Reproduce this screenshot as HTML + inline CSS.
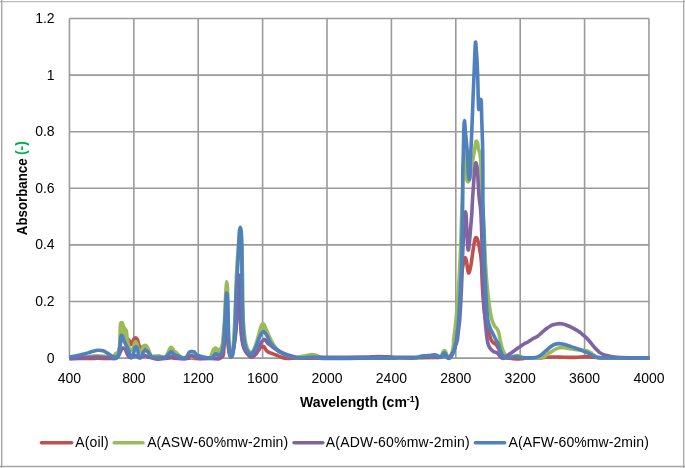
<!DOCTYPE html>
<html><head><meta charset="utf-8">
<style>
html,body{margin:0;padding:0;background:#fff;}
body{width:685px;height:468px;position:relative;overflow:hidden;font-family:"Liberation Sans",sans-serif;color:#000;}
svg{position:absolute;left:0;top:0;}
</style></head><body>
<svg width="685" height="468" viewBox="0 0 685 468">
<g fill="none">
<path d="M0 1.55H685" stroke="#bbbbbb" stroke-width="1.3"/>
<path d="M1.7 0V468" stroke="#a8a8a8" stroke-width="1.5"/>
<path d="M683.7 0V468" stroke="#aaaaaa" stroke-width="1.4"/>
<path d="M0 466.5H685" stroke="#a6a6a6" stroke-width="1.5"/>
</g>
<g stroke="#9a9a9a" stroke-width="1.6" fill="none">
<path d="M69.45 18.48H648.96M69.45 75.08H648.96M69.45 131.68H648.96M69.45 188.28H648.96M69.45 244.88H648.96M69.45 301.48H648.96M69.45 358.08H648.96"/>
<path d="M69.45 18.48V358.08M133.84 18.48V358.08M198.23 18.48V358.08M262.62 18.48V358.08M327.01 18.48V358.08M391.40 18.48V358.08M455.79 18.48V358.08M520.18 18.48V358.08M584.57 18.48V358.08M648.96 18.48V358.08"/>
</g>
<g id="curves" fill="none" stroke-width="3.6" stroke-linejoin="round" stroke-linecap="butt">
<path stroke="#C0504D" d="M69.30 358.40C72.75 358.40 85.22 358.42 90.00 358.40C94.78 358.38 94.67 358.28 98.00 358.30C101.33 358.32 107.17 358.48 110.00 358.50C112.83 358.52 113.80 358.65 115.00 358.40C116.20 358.15 116.60 357.90 117.20 357.00C117.80 356.10 118.13 354.83 118.60 353.00C119.07 351.17 119.55 348.17 120.00 346.00C120.45 343.83 120.87 341.45 121.30 340.00C121.73 338.55 122.12 337.82 122.60 337.30C123.08 336.78 123.67 336.82 124.20 336.90C124.73 336.98 125.27 337.45 125.80 337.80C126.33 338.15 126.87 338.58 127.40 339.00C127.93 339.42 128.50 339.67 129.00 340.30C129.50 340.93 130.00 342.10 130.40 342.80C130.80 343.50 131.05 344.55 131.40 344.50C131.75 344.45 132.12 343.33 132.50 342.50C132.88 341.67 133.28 340.25 133.70 339.50C134.12 338.75 134.57 338.22 135.00 338.00C135.43 337.78 135.88 337.87 136.30 338.20C136.72 338.53 137.12 339.03 137.50 340.00C137.88 340.97 138.25 342.80 138.60 344.00C138.95 345.20 139.30 346.47 139.60 347.20C139.90 347.93 140.07 348.30 140.40 348.40C140.73 348.50 141.12 348.13 141.60 347.80C142.08 347.47 142.73 346.48 143.30 346.40C143.87 346.32 144.38 346.70 145.00 347.30C145.62 347.90 146.25 348.80 147.00 350.00C147.75 351.20 148.67 353.25 149.50 354.50C150.33 355.75 151.08 356.78 152.00 357.50C152.92 358.22 154.00 358.53 155.00 358.80C156.00 359.07 157.00 359.08 158.00 359.10C159.00 359.12 159.83 359.00 161.00 358.90C162.17 358.80 163.28 358.68 165.00 358.50C166.72 358.32 169.80 357.85 171.30 357.80C172.80 357.75 171.72 358.07 174.00 358.20C176.28 358.33 182.08 358.63 185.00 358.60C187.92 358.57 189.67 358.03 191.50 358.00C193.33 357.97 192.92 358.35 196.00 358.40C199.08 358.45 207.00 358.30 210.00 358.30C213.00 358.30 212.92 358.35 214.00 358.40C215.08 358.45 215.82 358.52 216.50 358.60C217.18 358.68 217.52 358.95 218.10 358.90C218.68 358.85 219.35 358.62 220.00 358.30C220.65 357.98 221.43 357.63 222.00 357.00C222.57 356.37 223.02 356.83 223.40 354.50C223.78 352.17 223.97 346.58 224.30 343.00C224.63 339.42 225.05 335.50 225.40 333.00C225.75 330.50 226.08 328.17 226.40 328.00C226.72 327.83 227.03 329.67 227.30 332.00C227.57 334.33 227.73 338.83 228.00 342.00C228.27 345.17 228.53 348.67 228.90 351.00C229.27 353.33 229.75 355.23 230.20 356.00C230.65 356.77 231.13 356.60 231.60 355.60C232.07 354.60 232.52 352.60 233.00 350.00C233.48 347.40 234.00 344.00 234.50 340.00C235.00 336.00 235.55 330.67 236.00 326.00C236.45 321.33 236.82 317.00 237.20 312.00C237.58 307.00 237.98 300.83 238.30 296.00C238.62 291.17 238.87 285.83 239.10 283.00C239.33 280.17 239.52 279.00 239.70 279.00C239.88 279.00 240.08 280.17 240.20 283.00C240.32 285.83 240.35 291.50 240.40 296.00C240.45 300.50 240.43 305.67 240.50 310.00C240.57 314.33 240.63 318.17 240.80 322.00C240.97 325.83 241.22 329.83 241.50 333.00C241.78 336.17 242.08 338.67 242.50 341.00C242.92 343.33 243.42 345.33 244.00 347.00C244.58 348.67 245.33 349.75 246.00 351.00C246.67 352.25 247.25 353.53 248.00 354.50C248.75 355.47 249.67 356.43 250.50 356.80C251.33 357.17 252.17 357.08 253.00 356.70C253.83 356.32 254.67 355.40 255.50 354.50C256.33 353.60 257.17 352.47 258.00 351.30C258.83 350.13 259.78 348.25 260.50 347.50C261.22 346.75 261.83 346.97 262.30 346.80C262.77 346.63 262.93 346.38 263.30 346.50C263.67 346.62 264.12 347.03 264.50 347.50C264.88 347.97 265.23 348.75 265.60 349.30C265.97 349.85 266.22 350.32 266.70 350.80C267.18 351.28 267.72 351.78 268.50 352.20C269.28 352.62 270.13 352.83 271.40 353.30C272.67 353.77 274.53 354.38 276.10 355.00C277.67 355.62 279.23 356.45 280.80 357.00C282.37 357.55 283.97 358.07 285.50 358.30C287.03 358.53 287.58 358.42 290.00 358.40C292.42 358.38 281.67 358.30 300.00 358.20C318.33 358.10 378.33 357.92 400.00 357.80C421.67 357.68 423.33 357.58 430.00 357.50C436.67 357.42 437.92 357.45 440.00 357.30C442.08 357.15 441.77 356.92 442.50 356.60C443.23 356.28 443.78 355.40 444.40 355.40C445.02 355.40 445.60 356.20 446.20 356.60C446.80 357.00 447.42 357.73 448.00 357.80C448.58 357.87 448.98 357.80 449.70 357.00C450.42 356.20 451.50 354.50 452.30 353.00C453.10 351.50 453.83 350.17 454.50 348.00C455.17 345.83 455.78 343.00 456.30 340.00C456.82 337.00 457.20 333.33 457.60 330.00C458.00 326.67 458.32 325.00 458.70 320.00C459.08 315.00 459.52 306.67 459.90 300.00C460.28 293.33 460.57 285.33 461.00 280.00C461.43 274.67 462.03 271.17 462.50 268.00C462.97 264.83 463.43 262.67 463.80 261.00C464.17 259.33 464.40 258.45 464.70 258.00C465.00 257.55 465.28 257.63 465.60 258.30C465.92 258.97 466.27 260.22 466.60 262.00C466.93 263.78 467.28 267.20 467.60 269.00C467.92 270.80 468.18 272.38 468.50 272.80C468.82 273.22 469.12 272.63 469.50 271.50C469.88 270.37 470.38 268.25 470.80 266.00C471.22 263.75 471.62 260.67 472.00 258.00C472.38 255.33 472.73 252.50 473.10 250.00C473.47 247.50 473.85 244.92 474.20 243.00C474.55 241.08 474.88 239.42 475.20 238.50C475.52 237.58 475.78 237.50 476.10 237.50C476.42 237.50 476.75 237.75 477.10 238.50C477.45 239.25 477.85 240.58 478.20 242.00C478.55 243.42 478.90 245.42 479.20 247.00C479.50 248.58 479.75 250.17 480.00 251.50C480.25 252.83 480.50 253.58 480.70 255.00C480.90 256.42 481.03 257.83 481.20 260.00C481.37 262.17 481.52 263.83 481.70 268.00C481.88 272.17 482.03 279.67 482.30 285.00C482.57 290.33 482.92 295.17 483.30 300.00C483.68 304.83 484.15 310.33 484.60 314.00C485.05 317.67 485.52 319.83 486.00 322.00C486.48 324.17 487.00 325.17 487.50 327.00C488.00 328.83 488.50 331.17 489.00 333.00C489.50 334.83 490.03 336.67 490.50 338.00C490.97 339.33 491.30 340.20 491.80 341.00C492.30 341.80 492.88 342.30 493.50 342.80C494.12 343.30 494.92 343.47 495.50 344.00C496.08 344.53 496.50 345.25 497.00 346.00C497.50 346.75 497.92 347.42 498.50 348.50C499.08 349.58 499.83 351.25 500.50 352.50C501.17 353.75 501.75 355.12 502.50 356.00C503.25 356.88 503.75 357.43 505.00 357.80C506.25 358.17 508.50 358.03 510.00 358.20C511.50 358.37 512.75 358.67 514.00 358.80C515.25 358.93 516.33 359.00 517.50 359.00C518.67 359.00 519.75 358.92 521.00 358.80C522.25 358.68 522.67 358.38 525.00 358.30C527.33 358.22 532.50 358.37 535.00 358.30C537.50 358.23 538.17 358.07 540.00 357.90C541.83 357.73 543.90 357.45 546.00 357.30C548.10 357.15 550.27 357.03 552.60 357.00C554.93 356.97 556.27 357.03 560.00 357.10C563.73 357.17 570.55 357.48 575.00 357.40C579.45 357.32 582.80 356.57 586.70 356.60C590.60 356.63 594.52 357.37 598.40 357.60C602.28 357.83 601.47 357.90 610.00 358.00C618.53 358.10 643.00 358.17 649.60 358.20"/>
<path fill="#9BBB59" stroke="none" d="M301.00 356.50L305.00 355.60L312.00 354.40L316.00 355.00L319.00 356.50L312.00 357.00Z"/>
<path fill="#9BBB59" stroke="none" d="M212.30 353.00L213.10 350.20L214.30 348.30L215.50 347.80L217.00 348.80L218.20 350.60L219.50 349.30L221.00 347.80L222.20 346.50L222.40 353.00Z"/>
<path fill="#9BBB59" stroke="none" d="M261.20 332.00L261.90 326.50L263.00 323.90L264.30 324.80L265.60 328.00L266.20 332.00L263.50 334.00Z"/>
<path fill="#9BBB59" stroke="none" d="M119.50 345.00L119.60 332.00L120.10 325.00L121.20 323.20L122.30 323.60L123.00 325.80L124.20 328.60L125.40 330.00L126.10 331.50L126.50 335.00L126.80 339.00L123.00 341.00L120.00 345.00Z"/>
<path stroke="#9BBB59" d="M69.30 358.00C71.08 357.92 76.55 357.75 80.00 357.50C83.45 357.25 87.00 356.80 90.00 356.50C93.00 356.20 95.33 355.70 98.00 355.70C100.67 355.70 103.83 356.22 106.00 356.50C108.17 356.78 109.75 357.38 111.00 357.40C112.25 357.42 112.87 357.07 113.50 356.60C114.13 356.13 114.30 355.17 114.80 354.60C115.30 354.03 115.97 353.58 116.50 353.20C117.03 352.82 117.55 352.92 118.00 352.30C118.45 351.68 118.90 351.05 119.20 349.50C119.50 347.95 119.67 345.42 119.80 343.00C119.93 340.58 119.93 337.58 120.00 335.00C120.07 332.42 120.10 329.40 120.20 327.50C120.30 325.60 120.42 324.42 120.60 323.60C120.78 322.78 121.00 322.67 121.30 322.60C121.60 322.53 122.08 322.72 122.40 323.20C122.72 323.68 122.88 324.67 123.20 325.50C123.52 326.33 123.92 327.57 124.30 328.20C124.68 328.83 125.17 328.83 125.50 329.30C125.83 329.77 126.08 330.05 126.30 331.00C126.52 331.95 126.63 333.67 126.80 335.00C126.97 336.33 127.12 337.67 127.30 339.00C127.48 340.33 127.68 341.83 127.90 343.00C128.12 344.17 128.30 345.03 128.60 346.00C128.90 346.97 129.22 348.08 129.70 348.80C130.18 349.52 130.95 350.35 131.50 350.30C132.05 350.25 132.57 349.38 133.00 348.50C133.43 347.62 133.80 345.98 134.10 345.00C134.40 344.02 134.57 343.13 134.80 342.60C135.03 342.07 135.20 341.73 135.50 341.80C135.80 341.87 136.27 342.30 136.60 343.00C136.93 343.70 137.18 344.92 137.50 346.00C137.82 347.08 138.17 348.53 138.50 349.50C138.83 350.47 139.18 351.30 139.50 351.80C139.82 352.30 140.07 352.63 140.40 352.50C140.73 352.37 141.15 351.67 141.50 351.00C141.85 350.33 142.13 349.28 142.50 348.50C142.87 347.72 143.25 346.82 143.70 346.30C144.15 345.78 144.73 345.45 145.20 345.40C145.67 345.35 146.07 345.57 146.50 346.00C146.93 346.43 147.35 347.12 147.80 348.00C148.25 348.88 148.78 350.25 149.20 351.30C149.62 352.35 149.92 353.45 150.30 354.30C150.68 355.15 151.05 356.08 151.50 356.40C151.95 356.72 152.28 356.25 153.00 356.20C153.72 356.15 154.80 356.15 155.80 356.10C156.80 356.05 158.05 355.83 159.00 355.90C159.95 355.97 160.75 356.28 161.50 356.50C162.25 356.72 162.75 357.23 163.50 357.20C164.25 357.17 165.20 357.17 166.00 356.30C166.80 355.43 167.67 353.28 168.30 352.00C168.93 350.72 169.32 349.38 169.80 348.60C170.28 347.82 170.75 347.33 171.20 347.30C171.65 347.27 172.07 347.82 172.50 348.40C172.93 348.98 173.33 350.20 173.80 350.80C174.27 351.40 174.68 351.50 175.30 352.00C175.92 352.50 176.80 353.13 177.50 353.80C178.20 354.47 178.80 355.40 179.50 356.00C180.20 356.60 180.78 357.12 181.70 357.40C182.62 357.68 183.62 357.70 185.00 357.70C186.38 357.70 188.33 357.42 190.00 357.40C191.67 357.38 192.50 357.53 195.00 357.60C197.50 357.67 202.58 357.77 205.00 357.80C207.42 357.83 208.50 358.07 209.50 357.80C210.50 357.53 210.55 357.00 211.00 356.20C211.45 355.40 211.83 354.03 212.20 353.00C212.57 351.97 212.85 350.75 213.20 350.00C213.55 349.25 213.92 348.83 214.30 348.50C214.68 348.17 215.07 347.92 215.50 348.00C215.93 348.08 216.45 348.53 216.90 349.00C217.35 349.47 217.75 350.72 218.20 350.80C218.65 350.88 219.13 349.97 219.60 349.50C220.07 349.03 220.58 348.67 221.00 348.00C221.42 347.33 221.78 346.83 222.10 345.50C222.42 344.17 222.50 344.25 222.90 340.00C223.30 335.75 224.08 326.67 224.50 320.00C224.92 313.33 225.13 305.33 225.40 300.00C225.67 294.67 225.87 291.02 226.10 288.00C226.33 284.98 226.57 281.90 226.80 281.90C227.03 281.90 227.32 284.15 227.50 288.00C227.68 291.85 227.78 299.67 227.90 305.00C228.02 310.33 228.10 315.00 228.20 320.00C228.30 325.00 228.32 330.17 228.50 335.00C228.68 339.83 228.98 345.50 229.30 349.00C229.62 352.50 230.03 354.75 230.40 356.00C230.77 357.25 231.17 357.00 231.50 356.50C231.83 356.00 232.10 354.92 232.40 353.00C232.70 351.08 233.03 348.17 233.30 345.00C233.57 341.83 233.75 338.17 234.00 334.00C234.25 329.83 234.53 325.67 234.80 320.00C235.07 314.33 235.35 306.67 235.60 300.00C235.85 293.33 236.03 286.33 236.30 280.00C236.57 273.67 236.87 267.33 237.20 262.00C237.53 256.67 237.92 251.67 238.30 248.00C238.68 244.33 239.12 241.33 239.50 240.00C239.88 238.67 240.25 238.67 240.60 240.00C240.95 241.33 241.33 244.33 241.60 248.00C241.87 251.67 242.03 256.67 242.20 262.00C242.37 267.33 242.50 273.67 242.60 280.00C242.70 286.33 242.68 293.33 242.80 300.00C242.92 306.67 243.07 314.67 243.30 320.00C243.53 325.33 243.88 328.67 244.20 332.00C244.52 335.33 244.82 337.67 245.20 340.00C245.58 342.33 245.95 344.25 246.50 346.00C247.05 347.75 247.83 349.42 248.50 350.50C249.17 351.58 249.88 352.25 250.50 352.50C251.12 352.75 251.62 352.58 252.20 352.00C252.78 351.42 253.37 350.33 254.00 349.00C254.63 347.67 255.32 346.00 256.00 344.00C256.68 342.00 257.38 339.58 258.10 337.00C258.82 334.42 259.68 330.57 260.30 328.50C260.92 326.43 261.33 325.38 261.80 324.60C262.27 323.82 262.67 323.73 263.10 323.80C263.53 323.87 263.92 324.13 264.40 325.00C264.88 325.87 265.40 327.58 266.00 329.00C266.60 330.42 267.33 332.00 268.00 333.50C268.67 335.00 269.33 336.58 270.00 338.00C270.67 339.42 271.33 340.75 272.00 342.00C272.67 343.25 273.17 344.33 274.00 345.50C274.83 346.67 275.83 347.87 277.00 349.00C278.17 350.13 279.58 351.33 281.00 352.30C282.42 353.27 283.67 354.05 285.50 354.80C287.33 355.55 290.08 356.33 292.00 356.80C293.92 357.27 295.67 357.60 297.00 357.60C298.33 357.60 298.67 357.10 300.00 356.80C301.33 356.50 303.00 356.17 305.00 355.80C307.00 355.43 310.17 354.70 312.00 354.60C313.83 354.50 314.75 354.83 316.00 355.20C317.25 355.57 318.17 356.33 319.50 356.80C320.83 357.27 320.58 357.77 324.00 358.00C327.42 358.23 327.33 358.20 340.00 358.20C352.67 358.20 385.00 358.12 400.00 358.00C415.00 357.88 423.83 357.63 430.00 357.50C436.17 357.37 435.33 357.23 437.00 357.20C438.67 357.17 439.25 357.58 440.00 357.30C440.75 357.02 441.00 356.38 441.50 355.50C442.00 354.62 442.52 352.82 443.00 352.00C443.48 351.18 443.93 350.60 444.40 350.60C444.87 350.60 445.40 351.27 445.80 352.00C446.20 352.73 446.47 354.12 446.80 355.00C447.13 355.88 447.43 356.75 447.80 357.30C448.17 357.85 448.60 358.27 449.00 358.30C449.40 358.33 449.83 357.97 450.20 357.50C450.57 357.03 450.87 356.42 451.20 355.50C451.53 354.58 451.90 353.25 452.20 352.00C452.50 350.75 452.75 349.50 453.00 348.00C453.25 346.50 453.60 344.33 453.70 343.00C453.80 341.67 453.40 342.17 453.60 340.00C453.80 337.83 454.50 333.33 454.90 330.00C455.30 326.67 455.60 324.17 456.00 320.00C456.40 315.83 456.90 310.00 457.30 305.00C457.70 300.00 458.02 295.83 458.40 290.00C458.78 284.17 459.25 276.67 459.60 270.00C459.95 263.33 460.23 256.67 460.50 250.00C460.77 243.33 460.95 237.50 461.20 230.00C461.45 222.50 461.73 212.50 462.00 205.00C462.27 197.50 462.57 190.83 462.80 185.00C463.03 179.17 463.20 174.50 463.40 170.00C463.60 165.50 463.77 161.00 464.00 158.00C464.23 155.00 464.55 152.33 464.80 152.00C465.05 151.67 465.33 153.83 465.50 156.00C465.67 158.17 465.70 161.83 465.80 165.00C465.90 168.17 465.90 172.42 466.10 175.00C466.30 177.58 466.65 179.33 467.00 180.50C467.35 181.67 467.80 182.00 468.20 182.00C468.60 182.00 469.00 181.67 469.40 180.50C469.80 179.33 470.22 177.42 470.60 175.00C470.98 172.58 471.33 168.50 471.70 166.00C472.07 163.50 472.45 162.00 472.80 160.00C473.15 158.00 473.50 155.67 473.80 154.00C474.10 152.33 474.35 151.50 474.60 150.00C474.85 148.50 475.08 146.40 475.30 145.00C475.52 143.60 475.68 142.22 475.90 141.60C476.12 140.98 476.33 141.07 476.60 141.30C476.87 141.53 477.23 142.05 477.50 143.00C477.77 143.95 477.97 145.75 478.20 147.00C478.43 148.25 478.65 149.58 478.90 150.50C479.15 151.42 479.47 151.58 479.70 152.50C479.93 153.42 480.13 154.58 480.30 156.00C480.47 157.42 480.57 158.33 480.70 161.00C480.83 163.67 480.97 167.17 481.10 172.00C481.23 176.83 481.25 184.50 481.50 190.00C481.75 195.50 482.27 200.00 482.60 205.00C482.93 210.00 483.18 214.17 483.50 220.00C483.82 225.83 484.20 233.33 484.50 240.00C484.80 246.67 485.02 254.17 485.30 260.00C485.58 265.83 485.87 270.33 486.20 275.00C486.53 279.67 486.90 283.83 487.30 288.00C487.70 292.17 488.10 296.00 488.60 300.00C489.10 304.00 489.73 308.67 490.30 312.00C490.87 315.33 491.30 317.67 492.00 320.00C492.70 322.33 493.75 324.67 494.50 326.00C495.25 327.33 495.97 327.33 496.50 328.00C497.03 328.67 497.32 329.17 497.70 330.00C498.08 330.83 498.45 331.67 498.80 333.00C499.15 334.33 499.45 336.33 499.80 338.00C500.15 339.67 500.53 341.42 500.90 343.00C501.27 344.58 501.60 346.08 502.00 347.50C502.40 348.92 502.97 350.63 503.30 351.50C503.63 352.37 503.60 352.05 504.00 352.70C504.40 353.35 505.12 354.68 505.70 355.40C506.28 356.12 506.78 356.70 507.50 357.00C508.22 357.30 509.08 357.32 510.00 357.20C510.92 357.08 511.88 356.57 513.00 356.30C514.12 356.03 515.53 355.62 516.70 355.60C517.87 355.58 518.95 355.88 520.00 356.20C521.05 356.52 521.33 357.20 523.00 357.50C524.67 357.80 527.50 357.92 530.00 358.00C532.50 358.08 536.17 358.12 538.00 358.00C539.83 357.88 539.93 357.55 541.00 357.30C542.07 357.05 543.40 356.97 544.40 356.50C545.40 356.03 546.03 355.18 547.00 354.50C547.97 353.82 548.87 353.23 550.20 352.40C551.53 351.57 553.43 350.27 555.00 349.50C556.57 348.73 558.18 348.08 559.60 347.80C561.02 347.52 562.15 347.72 563.50 347.80C564.85 347.88 566.12 348.07 567.70 348.30C569.28 348.53 570.95 348.92 573.00 349.20C575.05 349.48 577.72 349.73 580.00 350.00C582.28 350.27 584.87 350.30 586.70 350.80C588.53 351.30 589.62 352.13 591.00 353.00C592.38 353.87 593.77 355.23 595.00 356.00C596.23 356.77 595.90 357.27 598.40 357.60C600.90 357.93 601.47 357.92 610.00 358.00C618.53 358.08 643.00 358.08 649.60 358.10"/>
<path stroke="#8064A2" d="M69.30 358.60C70.08 358.58 71.22 358.67 74.00 358.50C76.78 358.33 82.17 357.83 86.00 357.60C89.83 357.37 93.67 357.12 97.00 357.10C100.33 357.08 103.50 357.32 106.00 357.50C108.50 357.68 110.63 358.05 112.00 358.20C113.37 358.35 113.37 358.50 114.20 358.40C115.03 358.30 116.23 358.08 117.00 357.60C117.77 357.12 118.25 356.43 118.80 355.50C119.35 354.57 119.80 353.08 120.30 352.00C120.80 350.92 121.35 349.67 121.80 349.00C122.25 348.33 122.58 348.12 123.00 348.00C123.42 347.88 123.88 347.97 124.30 348.30C124.72 348.63 125.05 349.13 125.50 350.00C125.95 350.87 126.50 352.42 127.00 353.50C127.50 354.58 128.00 355.82 128.50 356.50C129.00 357.18 129.42 357.43 130.00 357.60C130.58 357.77 131.33 357.72 132.00 357.50C132.67 357.28 133.37 356.58 134.00 356.30C134.63 356.02 135.20 355.72 135.80 355.80C136.40 355.88 136.98 356.47 137.60 356.80C138.22 357.13 138.85 357.73 139.50 357.80C140.15 357.87 140.87 357.45 141.50 357.20C142.13 356.95 142.72 356.57 143.30 356.30C143.88 356.03 144.38 355.57 145.00 355.60C145.62 355.63 146.17 356.17 147.00 356.50C147.83 356.83 148.67 357.35 150.00 357.60C151.33 357.85 153.33 357.88 155.00 358.00C156.67 358.12 158.17 358.27 160.00 358.30C161.83 358.33 164.50 358.35 166.00 358.20C167.50 358.05 168.12 357.73 169.00 357.40C169.88 357.07 170.55 356.27 171.30 356.20C172.05 356.13 172.72 356.70 173.50 357.00C174.28 357.30 174.58 357.75 176.00 358.00C177.42 358.25 180.17 358.45 182.00 358.50C183.83 358.55 185.75 358.58 187.00 358.30C188.25 358.02 188.70 357.32 189.50 356.80C190.30 356.28 191.05 355.20 191.80 355.20C192.55 355.20 193.13 356.30 194.00 356.80C194.87 357.30 196.00 357.90 197.00 358.20C198.00 358.50 198.67 358.55 200.00 358.60C201.33 358.65 203.33 358.53 205.00 358.50C206.67 358.47 208.17 358.42 210.00 358.40C211.83 358.38 214.50 358.47 216.00 358.40C217.50 358.33 218.17 358.23 219.00 358.00C219.83 357.77 220.37 358.08 221.00 357.00C221.63 355.92 222.30 354.17 222.80 351.50C223.30 348.83 223.60 344.25 224.00 341.00C224.40 337.75 224.82 334.17 225.20 332.00C225.58 329.83 225.95 328.00 226.30 328.00C226.65 328.00 227.02 330.00 227.30 332.00C227.58 334.00 227.75 337.00 228.00 340.00C228.25 343.00 228.43 347.33 228.80 350.00C229.17 352.67 229.73 355.08 230.20 356.00C230.67 356.92 231.17 356.17 231.60 355.50C232.03 354.83 232.40 353.58 232.80 352.00C233.20 350.42 233.60 348.33 234.00 346.00C234.40 343.67 234.80 341.33 235.20 338.00C235.60 334.67 236.00 330.67 236.40 326.00C236.80 321.33 237.23 315.67 237.60 310.00C237.97 304.33 238.32 297.17 238.60 292.00C238.88 286.83 239.07 281.83 239.30 279.00C239.53 276.17 239.78 275.00 240.00 275.00C240.22 275.00 240.47 276.17 240.60 279.00C240.73 281.83 240.78 287.67 240.80 292.00C240.82 296.33 240.73 300.33 240.70 305.00C240.67 309.67 240.52 315.33 240.60 320.00C240.68 324.67 240.93 329.50 241.20 333.00C241.47 336.50 241.82 338.67 242.20 341.00C242.58 343.33 242.95 345.25 243.50 347.00C244.05 348.75 244.75 350.25 245.50 351.50C246.25 352.75 247.17 353.67 248.00 354.50C248.83 355.33 249.75 356.20 250.50 356.50C251.25 356.80 251.83 356.55 252.50 356.30C253.17 356.05 253.87 355.63 254.50 355.00C255.13 354.37 255.68 353.58 256.30 352.50C256.92 351.42 257.58 349.75 258.20 348.50C258.82 347.25 259.40 346.12 260.00 345.00C260.60 343.88 261.27 342.63 261.80 341.80C262.33 340.97 262.78 340.37 263.20 340.00C263.62 339.63 263.87 339.52 264.30 339.60C264.73 339.68 265.27 339.93 265.80 340.50C266.33 341.07 266.88 342.33 267.50 343.00C268.12 343.67 268.75 343.92 269.50 344.50C270.25 345.08 270.92 345.70 272.00 346.50C273.08 347.30 274.50 348.35 276.00 349.30C277.50 350.25 279.00 351.25 281.00 352.20C283.00 353.15 285.50 354.17 288.00 355.00C290.50 355.83 293.17 356.70 296.00 357.20C298.83 357.70 302.33 357.93 305.00 358.00C307.67 358.07 309.50 357.70 312.00 357.60C314.50 357.50 314.50 357.47 320.00 357.40C325.50 357.33 337.50 357.25 345.00 357.20C352.50 357.15 360.67 357.15 365.00 357.10C369.33 357.05 368.83 357.00 371.00 356.90C373.17 356.80 375.50 356.53 378.00 356.50C380.50 356.47 383.17 356.58 386.00 356.70C388.83 356.82 389.33 357.10 395.00 357.20C400.67 357.30 413.83 357.33 420.00 357.30C426.17 357.27 429.00 356.97 432.00 357.00C435.00 357.03 436.42 357.58 438.00 357.50C439.58 357.42 440.58 356.98 441.50 356.50C442.42 356.02 442.95 354.97 443.50 354.60C444.05 354.23 444.33 354.15 444.80 354.30C445.27 354.45 445.77 355.00 446.30 355.50C446.83 356.00 447.45 356.95 448.00 357.30C448.55 357.65 448.93 358.15 449.60 357.60C450.27 357.05 451.23 355.27 452.00 354.00C452.77 352.73 453.57 351.50 454.20 350.00C454.83 348.50 455.28 346.67 455.80 345.00C456.32 343.33 456.85 342.50 457.30 340.00C457.75 337.50 458.10 333.33 458.50 330.00C458.90 326.67 459.30 325.00 459.70 320.00C460.10 315.00 460.55 306.67 460.90 300.00C461.25 293.33 461.55 286.67 461.80 280.00C462.05 273.33 462.15 266.67 462.40 260.00C462.65 253.33 463.00 245.83 463.30 240.00C463.60 234.17 463.95 229.17 464.20 225.00C464.45 220.83 464.60 217.20 464.80 215.00C465.00 212.80 465.18 211.80 465.40 211.80C465.62 211.80 465.90 212.80 466.10 215.00C466.30 217.20 466.40 220.83 466.60 225.00C466.80 229.17 467.07 235.92 467.30 240.00C467.53 244.08 467.75 248.17 468.00 249.50C468.25 250.83 468.50 249.92 468.80 248.00C469.10 246.08 469.47 241.67 469.80 238.00C470.13 234.33 470.47 230.00 470.80 226.00C471.13 222.00 471.52 218.33 471.80 214.00C472.08 209.67 472.22 204.83 472.50 200.00C472.78 195.17 473.17 189.67 473.50 185.00C473.83 180.33 474.15 175.62 474.50 172.00C474.85 168.38 475.23 164.47 475.60 163.30C475.97 162.13 476.37 163.55 476.70 165.00C477.03 166.45 477.33 168.67 477.60 172.00C477.87 175.33 478.07 181.00 478.30 185.00C478.53 189.00 478.75 193.00 479.00 196.00C479.25 199.00 479.57 201.17 479.80 203.00C480.03 204.83 480.22 205.17 480.40 207.00C480.58 208.83 480.73 211.00 480.90 214.00C481.07 217.00 481.23 220.67 481.40 225.00C481.57 229.33 481.77 234.17 481.90 240.00C482.03 245.83 482.03 253.33 482.20 260.00C482.37 266.67 482.63 273.33 482.90 280.00C483.17 286.67 483.42 293.33 483.80 300.00C484.18 306.67 484.75 314.33 485.20 320.00C485.65 325.67 486.05 330.13 486.50 334.00C486.95 337.87 487.30 340.83 487.90 343.20C488.50 345.57 489.18 346.82 490.10 348.20C491.02 349.58 492.28 350.75 493.40 351.50C494.52 352.25 495.87 352.13 496.80 352.70C497.73 353.27 498.35 354.12 499.00 354.90C499.65 355.68 500.00 356.80 500.70 357.40C501.40 358.00 502.48 358.47 503.20 358.50C503.92 358.53 504.42 358.02 505.00 357.60C505.58 357.18 505.87 356.65 506.70 356.00C507.53 355.35 508.80 354.53 510.00 353.70C511.20 352.87 512.73 351.82 513.90 351.00C515.07 350.18 515.88 349.60 517.00 348.80C518.12 348.00 519.43 347.00 520.60 346.20C521.77 345.40 522.77 344.70 524.00 344.00C525.23 343.30 526.83 342.67 528.00 342.00C529.17 341.33 530.08 340.62 531.00 340.00C531.92 339.38 532.40 338.92 533.50 338.30C534.60 337.68 536.35 337.13 537.60 336.30C538.85 335.47 539.93 334.25 541.00 333.30C542.07 332.35 543.00 331.45 544.00 330.60C545.00 329.75 546.00 328.93 547.00 328.20C548.00 327.47 549.00 326.77 550.00 326.20C551.00 325.63 551.93 325.17 553.00 324.80C554.07 324.43 555.30 324.20 556.40 324.00C557.50 323.80 558.50 323.60 559.60 323.60C560.70 323.60 561.93 323.77 563.00 324.00C564.07 324.23 564.42 324.37 566.00 325.00C567.58 325.63 570.42 326.77 572.50 327.80C574.58 328.83 576.87 330.12 578.50 331.20C580.13 332.28 580.68 332.87 582.30 334.30C583.92 335.73 586.25 337.70 588.20 339.80C590.15 341.90 592.07 344.77 594.00 346.90C595.93 349.03 597.88 351.20 599.80 352.60C601.72 354.00 603.63 354.65 605.50 355.30C607.37 355.95 608.30 356.12 611.00 356.50C613.70 356.88 615.27 357.33 621.70 357.60C628.13 357.87 644.95 358.02 649.60 358.10"/>
<path stroke="#4F81BD" d="M69.30 357.10C70.08 356.97 72.27 356.65 74.00 356.30C75.73 355.95 78.03 355.38 79.70 355.00C81.37 354.62 82.62 354.35 84.00 354.00C85.38 353.65 86.50 353.37 88.00 352.90C89.50 352.43 91.32 351.65 93.00 351.20C94.68 350.75 96.43 350.27 98.10 350.20C99.77 350.13 101.40 350.27 103.00 350.80C104.60 351.33 106.37 352.60 107.70 353.40C109.03 354.20 109.95 355.00 111.00 355.60C112.05 356.20 113.12 356.67 114.00 357.00C114.88 357.33 115.72 357.60 116.30 357.60C116.88 357.60 117.13 357.43 117.50 357.00C117.87 356.57 118.20 356.00 118.50 355.00C118.80 354.00 119.05 352.67 119.30 351.00C119.55 349.33 119.80 347.00 120.00 345.00C120.20 343.00 120.33 340.50 120.50 339.00C120.67 337.50 120.82 336.60 121.00 336.00C121.18 335.40 121.37 335.35 121.60 335.40C121.83 335.45 122.12 335.70 122.40 336.30C122.68 336.90 122.93 338.05 123.30 339.00C123.67 339.95 124.15 341.00 124.60 342.00C125.05 343.00 125.50 343.92 126.00 345.00C126.50 346.08 127.10 347.47 127.60 348.50C128.10 349.53 128.57 350.12 129.00 351.20C129.43 352.28 129.75 353.97 130.20 355.00C130.65 356.03 131.20 357.32 131.70 357.40C132.20 357.48 132.78 356.65 133.20 355.50C133.62 354.35 133.90 351.85 134.20 350.50C134.50 349.15 134.70 348.02 135.00 347.40C135.30 346.78 135.67 346.80 136.00 346.80C136.33 346.80 136.70 346.78 137.00 347.40C137.30 348.02 137.53 349.15 137.80 350.50C138.07 351.85 138.20 354.25 138.60 355.50C139.00 356.75 139.67 357.87 140.20 358.00C140.73 358.13 141.30 357.22 141.80 356.30C142.30 355.38 142.63 353.50 143.20 352.50C143.77 351.50 144.57 350.55 145.20 350.30C145.83 350.05 146.45 350.63 147.00 351.00C147.55 351.37 148.00 351.83 148.50 352.50C149.00 353.17 149.50 354.25 150.00 355.00C150.50 355.75 151.00 356.62 151.50 357.00C152.00 357.38 152.28 357.25 153.00 357.30C153.72 357.35 154.63 357.28 155.80 357.30C156.97 357.32 158.72 357.35 160.00 357.40C161.28 357.45 162.42 357.75 163.50 357.60C164.58 357.45 165.62 357.10 166.50 356.50C167.38 355.90 168.17 354.70 168.80 354.00C169.43 353.30 169.90 352.67 170.30 352.30C170.70 351.93 170.88 351.80 171.20 351.80C171.52 351.80 171.82 351.97 172.20 352.30C172.58 352.63 173.03 353.35 173.50 353.80C173.97 354.25 174.42 354.67 175.00 355.00C175.58 355.33 176.17 355.50 177.00 355.80C177.83 356.10 178.93 356.40 180.00 356.80C181.07 357.20 182.48 358.07 183.40 358.20C184.32 358.33 184.82 358.05 185.50 357.60C186.18 357.15 186.92 356.35 187.50 355.50C188.08 354.65 188.50 353.15 189.00 352.50C189.50 351.85 189.92 351.77 190.50 351.60C191.08 351.43 191.87 351.43 192.50 351.50C193.13 351.57 193.80 351.67 194.30 352.00C194.80 352.33 195.05 352.95 195.50 353.50C195.95 354.05 196.42 354.92 197.00 355.30C197.58 355.68 198.33 355.65 199.00 355.80C199.67 355.95 200.25 356.00 201.00 356.20C201.75 356.40 202.67 356.77 203.50 357.00C204.33 357.23 204.98 357.40 206.00 357.60C207.02 357.80 208.60 358.17 209.60 358.20C210.60 358.23 211.35 358.12 212.00 357.80C212.65 357.48 213.05 356.85 213.50 356.30C213.95 355.75 214.28 354.90 214.70 354.50C215.12 354.10 215.57 353.92 216.00 353.90C216.43 353.88 216.92 354.18 217.30 354.40C217.68 354.62 217.93 355.13 218.30 355.20C218.67 355.27 219.08 355.00 219.50 354.80C219.92 354.60 220.38 354.47 220.80 354.00C221.22 353.53 221.67 352.83 222.00 352.00C222.33 351.17 222.57 350.17 222.80 349.00C223.03 347.83 223.22 346.50 223.40 345.00C223.58 343.50 223.73 342.50 223.90 340.00C224.07 337.50 224.22 333.33 224.40 330.00C224.58 326.67 224.80 323.67 225.00 320.00C225.20 316.33 225.42 311.67 225.60 308.00C225.78 304.33 225.93 300.47 226.10 298.00C226.27 295.53 226.40 293.53 226.60 293.20C226.80 292.87 227.10 294.03 227.30 296.00C227.50 297.97 227.65 301.00 227.80 305.00C227.95 309.00 228.08 315.00 228.20 320.00C228.32 325.00 228.33 330.33 228.50 335.00C228.67 339.67 228.92 344.58 229.20 348.00C229.48 351.42 229.85 353.97 230.20 355.50C230.55 357.03 230.92 357.20 231.30 357.20C231.68 357.20 232.13 356.70 232.50 355.50C232.87 354.30 233.20 352.08 233.50 350.00C233.80 347.92 234.08 345.50 234.30 343.00C234.52 340.50 234.62 338.83 234.80 335.00C234.98 331.17 235.22 325.83 235.40 320.00C235.58 314.17 235.67 306.50 235.90 300.00C236.13 293.50 236.52 286.33 236.80 281.00C237.08 275.67 237.37 271.83 237.60 268.00C237.83 264.17 238.03 261.50 238.20 258.00C238.37 254.50 238.47 250.50 238.60 247.00C238.73 243.50 238.85 239.75 239.00 237.00C239.15 234.25 239.28 232.12 239.50 230.50C239.72 228.88 240.03 227.30 240.30 227.30C240.57 227.30 240.88 228.88 241.10 230.50C241.32 232.12 241.47 234.25 241.60 237.00C241.73 239.75 241.85 243.50 241.90 247.00C241.95 250.50 241.90 254.50 241.90 258.00C241.90 261.50 241.88 264.17 241.90 268.00C241.92 271.83 241.93 275.67 242.00 281.00C242.07 286.33 242.17 293.50 242.30 300.00C242.43 306.50 242.62 314.67 242.80 320.00C242.98 325.33 243.17 328.67 243.40 332.00C243.63 335.33 243.87 337.67 244.20 340.00C244.53 342.33 244.93 344.28 245.40 346.00C245.87 347.72 246.40 349.17 247.00 350.30C247.60 351.43 248.33 352.22 249.00 352.80C249.67 353.38 250.33 353.85 251.00 353.80C251.67 353.75 252.33 353.30 253.00 352.50C253.67 351.70 254.33 350.42 255.00 349.00C255.67 347.58 256.33 345.75 257.00 344.00C257.67 342.25 258.33 340.13 259.00 338.50C259.67 336.87 260.40 335.28 261.00 334.20C261.60 333.12 262.15 332.43 262.60 332.00C263.05 331.57 263.27 331.43 263.70 331.60C264.13 331.77 264.68 332.35 265.20 333.00C265.72 333.65 266.30 334.62 266.80 335.50C267.30 336.38 267.75 337.38 268.20 338.30C268.65 339.22 269.03 340.13 269.50 341.00C269.97 341.87 270.45 342.70 271.00 343.50C271.55 344.30 272.13 345.02 272.80 345.80C273.47 346.58 274.22 347.42 275.00 348.20C275.78 348.98 276.50 349.73 277.50 350.50C278.50 351.27 279.67 352.05 281.00 352.80C282.33 353.55 283.67 354.27 285.50 355.00C287.33 355.73 289.58 356.70 292.00 357.20C294.42 357.70 298.00 357.88 300.00 358.00C302.00 358.12 302.67 358.00 304.00 357.90C305.33 357.80 306.67 357.55 308.00 357.40C309.33 357.25 310.67 356.98 312.00 357.00C313.33 357.02 314.67 357.30 316.00 357.50C317.33 357.70 317.67 358.05 320.00 358.20C322.33 358.35 323.33 358.38 330.00 358.40C336.67 358.42 350.00 358.35 360.00 358.30C370.00 358.25 383.33 358.18 390.00 358.10C396.67 358.02 397.33 357.82 400.00 357.80C402.67 357.78 404.00 357.93 406.00 358.00C408.00 358.07 410.25 358.23 412.00 358.20C413.75 358.17 415.17 358.07 416.50 357.80C417.83 357.53 418.75 356.93 420.00 356.60C421.25 356.27 422.67 355.97 424.00 355.80C425.33 355.63 426.67 355.72 428.00 355.60C429.33 355.48 430.90 355.25 432.00 355.10C433.10 354.95 433.77 354.67 434.60 354.70C435.43 354.73 436.30 355.00 437.00 355.30C437.70 355.60 438.22 356.17 438.80 356.50C439.38 356.83 440.00 357.22 440.50 357.30C441.00 357.38 441.43 357.33 441.80 357.00C442.17 356.67 442.42 355.88 442.70 355.30C442.98 354.72 443.22 353.92 443.50 353.50C443.78 353.08 444.10 352.78 444.40 352.80C444.70 352.82 445.02 353.15 445.30 353.60C445.58 354.05 445.82 354.88 446.10 355.50C446.38 356.12 446.63 356.82 447.00 357.30C447.37 357.78 447.87 358.25 448.30 358.40C448.73 358.55 449.18 358.40 449.60 358.20C450.02 358.00 450.40 357.65 450.80 357.20C451.20 356.75 451.62 356.20 452.00 355.50C452.38 354.80 452.73 353.92 453.10 353.00C453.47 352.08 453.83 351.33 454.20 350.00C454.57 348.67 454.93 346.67 455.30 345.00C455.67 343.33 456.02 342.50 456.40 340.00C456.78 337.50 457.23 333.33 457.60 330.00C457.97 326.67 458.23 325.00 458.60 320.00C458.97 315.00 459.42 306.67 459.80 300.00C460.18 293.33 460.58 286.67 460.90 280.00C461.22 273.33 461.52 266.67 461.70 260.00C461.88 253.33 461.87 247.67 462.00 240.00C462.13 232.33 462.38 220.67 462.50 214.00C462.62 207.33 462.67 206.33 462.70 200.00C462.73 193.67 462.63 182.67 462.70 176.00C462.77 169.33 462.98 164.33 463.10 160.00C463.22 155.67 463.28 155.00 463.40 150.00C463.52 145.00 463.62 134.92 463.80 130.00C463.98 125.08 464.25 120.50 464.50 120.50C464.75 120.50 464.98 126.42 465.30 130.00C465.62 133.58 466.07 138.33 466.40 142.00C466.73 145.67 467.05 148.67 467.30 152.00C467.55 155.33 467.73 158.50 467.90 162.00C468.07 165.50 468.10 170.13 468.30 173.00C468.50 175.87 468.80 179.03 469.10 179.20C469.40 179.37 469.90 176.87 470.10 174.00C470.30 171.13 470.17 166.00 470.30 162.00C470.43 158.00 470.70 154.00 470.90 150.00C471.10 146.00 471.27 143.33 471.50 138.00C471.73 132.67 472.02 125.33 472.30 118.00C472.58 110.67 472.95 100.33 473.20 94.00C473.45 87.67 473.57 85.67 473.80 80.00C474.03 74.33 474.32 66.30 474.60 60.00C474.88 53.70 475.18 43.37 475.50 42.20C475.82 41.03 476.23 49.70 476.50 53.00C476.77 56.30 476.88 57.50 477.10 62.00C477.32 66.50 477.63 74.67 477.80 80.00C477.97 85.33 478.00 90.00 478.10 94.00C478.20 98.00 478.28 101.42 478.40 104.00C478.52 106.58 478.60 109.17 478.80 109.50C479.00 109.83 479.33 107.58 479.60 106.00C479.87 104.42 480.13 100.92 480.40 100.00C480.67 99.08 481.02 99.17 481.20 100.50C481.38 101.83 481.42 105.08 481.50 108.00C481.58 110.92 481.60 114.33 481.70 118.00C481.80 121.67 481.93 124.67 482.10 130.00C482.27 135.33 482.57 142.33 482.70 150.00C482.83 157.67 482.87 167.67 482.90 176.00C482.93 184.33 482.82 192.67 482.90 200.00C482.98 207.33 483.22 213.33 483.40 220.00C483.58 226.67 483.85 233.33 484.00 240.00C484.15 246.67 484.10 253.33 484.30 260.00C484.50 266.67 484.88 273.33 485.20 280.00C485.52 286.67 485.75 293.33 486.20 300.00C486.65 306.67 487.30 315.50 487.90 320.00C488.50 324.50 489.20 325.17 489.80 327.00C490.40 328.83 490.83 329.58 491.50 331.00C492.17 332.42 493.05 334.00 493.80 335.50C494.55 337.00 495.32 338.80 496.00 340.00C496.68 341.20 497.37 341.62 497.90 342.70C498.43 343.78 498.83 345.30 499.20 346.50C499.57 347.70 499.67 348.63 500.10 349.90C500.53 351.17 501.23 353.03 501.80 354.10C502.37 355.17 502.88 355.77 503.50 356.30C504.12 356.83 504.75 357.10 505.50 357.30C506.25 357.50 506.97 357.52 508.00 357.50C509.03 357.48 510.62 357.33 511.70 357.20C512.78 357.07 513.53 356.80 514.50 356.70C515.47 356.60 516.50 356.52 517.50 356.60C518.50 356.68 519.52 357.02 520.50 357.20C521.48 357.38 521.15 357.60 523.40 357.70C525.65 357.80 531.32 358.08 534.00 357.80C536.68 357.52 537.60 357.10 539.50 356.00C541.40 354.90 543.48 352.78 545.40 351.20C547.32 349.62 549.40 347.65 551.00 346.50C552.60 345.35 553.68 344.78 555.00 344.30C556.32 343.82 557.65 343.65 558.90 343.60C560.15 343.55 561.42 343.80 562.50 344.00C563.58 344.20 563.75 344.28 565.40 344.80C567.05 345.32 569.83 346.23 572.40 347.10C574.97 347.97 578.42 349.12 580.80 350.00C583.18 350.88 584.75 351.52 586.70 352.40C588.65 353.28 590.55 354.43 592.50 355.30C594.45 356.17 595.48 357.15 598.40 357.60C601.32 358.05 601.47 357.93 610.00 358.00C618.53 358.07 643.00 358.00 649.60 358.00"/>
</g>
<g stroke-width="3.6" stroke-linecap="round">
<line x1="41.4" y1="442.8" x2="71.6" y2="442.8" stroke="#C0504D"/>
<line x1="114.2" y1="442.8" x2="143" y2="442.8" stroke="#9BBB59"/>
<line x1="294" y1="442.8" x2="322.8" y2="442.8" stroke="#8064A2"/>
<line x1="475.4" y1="442.8" x2="504.6" y2="442.8" stroke="#4F81BD"/>
</g>
<g font-family="Liberation Sans" font-size="14" fill="#000" style="will-change:transform">
<text x="54.6" y="22.98" text-anchor="end">1.2</text>
<text x="54.6" y="79.58" text-anchor="end">1</text>
<text x="54.6" y="136.18" text-anchor="end">0.8</text>
<text x="54.6" y="192.78" text-anchor="end">0.6</text>
<text x="54.6" y="249.38" text-anchor="end">0.4</text>
<text x="54.6" y="305.98" text-anchor="end">0.2</text>
<text x="54.6" y="362.58" text-anchor="end">0</text>
<text x="69.45" y="383.1" text-anchor="middle">400</text>
<text x="133.84" y="383.1" text-anchor="middle">800</text>
<text x="198.23" y="383.1" text-anchor="middle">1200</text>
<text x="262.62" y="383.1" text-anchor="middle">1600</text>
<text x="327.01" y="383.1" text-anchor="middle">2000</text>
<text x="391.40" y="383.1" text-anchor="middle">2400</text>
<text x="455.79" y="383.1" text-anchor="middle">2800</text>
<text x="520.18" y="383.1" text-anchor="middle">3200</text>
<text x="584.57" y="383.1" text-anchor="middle">3600</text>
<text x="648.96" y="383.1" text-anchor="middle">4000</text>
<text x="300" y="406.8" font-weight="bold">Wavelength (cm<tspan font-size="9" dy="-5">-1</tspan><tspan dy="5">)</tspan></text>
<text transform="translate(26.9,235.2) rotate(-90)" font-weight="bold" textLength="76.8" lengthAdjust="spacingAndGlyphs">Absorbance</text>
<text transform="translate(26.1,155.1) rotate(-90)" font-weight="bold" fill="#00B050">(-)</text>
<text x="75.3" y="446.9" textLength="33.4" lengthAdjust="spacing">A(oil)</text>
<text x="147.2" y="446.9" textLength="140.9" lengthAdjust="spacing">A(ASW-60%mw-2min)</text>
<text x="325.7" y="446.9" textLength="144" lengthAdjust="spacing">A(ADW-60%mw-2min)</text>
<text x="508.6" y="446.9" textLength="140.2" lengthAdjust="spacing">A(AFW-60%mw-2min)</text>
</g>
</svg>
</body></html>
